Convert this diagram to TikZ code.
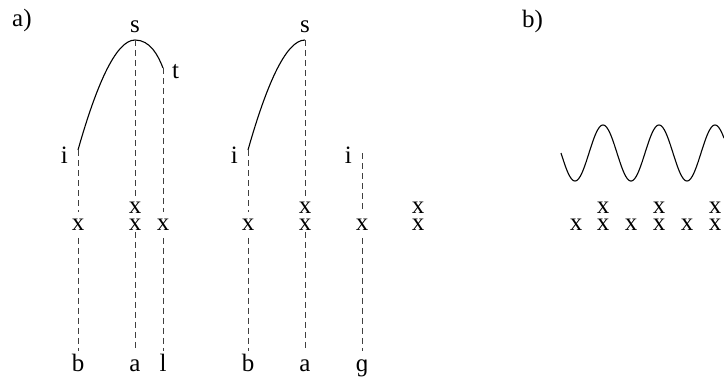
\documentclass[tikz,border=0pt]{standalone}
\usepackage{fontspec}
\setmainfont{Liberation Serif}
\begin{document}
\begin{tikzpicture}[x=1pt,y=-1pt,
  lbl/.style={inner sep=0pt,font=\fontsize{25}{30}\selectfont},
  xm/.style={inner sep=0pt,font=\fontsize{25}{30}\selectfont},
  xs/.style={inner sep=0pt,align=center,font=\fontsize{25}{17}\selectfont},
  dl/.style={dash pattern=on 6pt off 4pt,line width=0.9pt,draw=black!75},
  dla/.style={dl,shorten >=7pt},
  dlb/.style={dl,shorten <=7pt},
  dlsa/.style={dl,shorten >=5pt},
  dlsb/.style={dl,shorten <=1pt},
  cv/.style={line width=1.1pt}]
\useasboundingbox (0,0) rectangle (724,376);
% panel labels
\node[lbl,anchor=base west] (pa) at (12,26) {a)};
\node[lbl,anchor=base west] (pb) at (522,27) {b)};
% ---- group 1 ----
\coordinate (i1) at (78,150);
\coordinate (s1) at (135,40);
\coordinate (t1) at (163,68);
\node[lbl,anchor=base east] (li1) at (68,163) {i};
\node[lbl,anchor=base] (ls1) at (135,32) {s};
\node[lbl,anchor=base west] (lt1) at (172,78) {t};
\draw[cv] (i1) .. controls (95,90) and (115,40) .. (s1) .. controls (150,40) and (158,55) .. (t1);
\node[xm] (x1) at (78,225) {x};
\node[xs] (x2) at (135,216.5) {x\\x};
\node[xm] (x3) at (163,225) {x};
\coordinate (e1) at (78,351);
\coordinate (e2) at (135,351);
\coordinate (e3) at (163,351);
\draw[dla] (i1) -- (x1);
\draw[dlb] (x1) -- (e1);
\draw[dlsa] (s1) -- (x2);
\draw[dlsb] (x2) -- (e2);
\draw[dla] (t1) -- (x3);
\draw[dlb] (x3) -- (e3);
\node[lbl,anchor=base] (b1) at (78,371) {b};
\node[lbl,anchor=base] (a1) at (135,371) {a};
\node[lbl,anchor=base] (l1) at (163,371) {l};
% ---- group 2 ----
\coordinate (i2) at (248,150);
\coordinate (s2) at (305,40);
\coordinate (i3) at (362,153);
\node[lbl,anchor=base east] (li2) at (238,163) {i};
\node[lbl,anchor=base] (ls2) at (305,32) {s};
\node[lbl,anchor=base east] (li3) at (352,163) {i};
\draw[cv] (i2) .. controls (265,90) and (285,40) .. (s2);
\node[xm] (x4) at (248,225) {x};
\node[xs] (x5) at (305,216.5) {x\\x};
\node[xm] (x6) at (362,225) {x};
\node[xs] (x7) at (418,216.5) {x\\x};
\coordinate (e4) at (248,351);
\coordinate (e5) at (305,351);
\coordinate (e6) at (362,351);
\draw[dla] (i2) -- (x4);
\draw[dlb] (x4) -- (e4);
\draw[dlsa] (s2) -- (x5);
\draw[dlsb] (x5) -- (e5);
\draw[dla] (i3) -- (x6);
\draw[dlb] (x6) -- (e6);
\node[lbl,anchor=base] (b2) at (248,371) {b};
\node[lbl,anchor=base] (a2) at (305,371) {a};
\node[lbl,anchor=base] (g2) at (362,371) {ɡ};
% ---- panel b ----
\draw[cv] plot[domain=0:163,samples=200,smooth] ({\x+561},{153+28*sin(6.428571*\x)});
\foreach \k/\xx in {1/576,3/631,5/687}{
  \node[xm] (bx\k) at (\xx,225) {x};
}
\foreach \k/\xx in {2/603,4/659,6/715}{
  \node[xs] (bx\k) at (\xx,216) {x\\x};
}
\end{tikzpicture}
\end{document}
